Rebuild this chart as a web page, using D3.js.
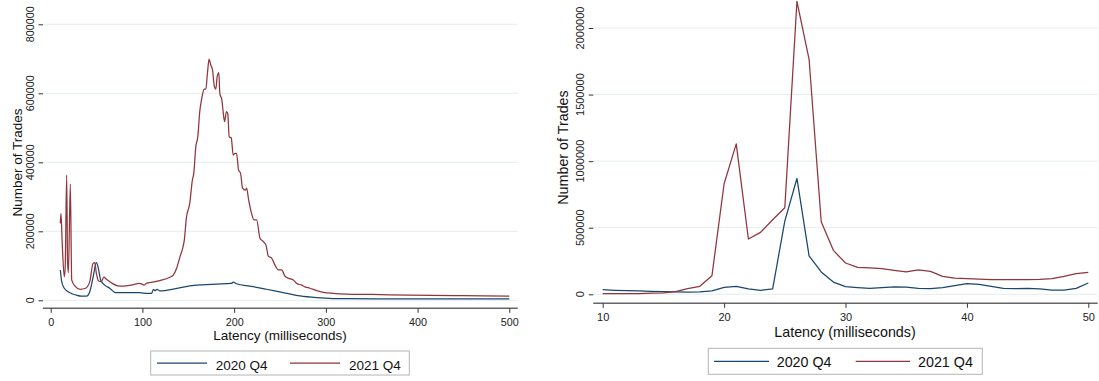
<!DOCTYPE html>
<html><head><meta charset="utf-8">
<script src="https://cdn.jsdelivr.net/npm/d3@7"></script>
<style>body{margin:0;background:#fff;}svg{display:block;font-family:"Liberation Sans",Arial,Helvetica,sans-serif;}</style>
</head><body>
<svg id="c" width="1099" height="381"></svg>
<script>
// ---- Left panel data (latency 0-500 ms) ----
const leftLat2021 = [10.5,11.2,12.5,14.8,15.8,17.4,18.4,19.3,21.4,22.9,26.5,32,38,42.6,46.2,48,49.8,52,55,58,60.4,66,73,78.5,87.6,96.6,99.5,101.8,104.7,107,119,130,133.6,137.3,140.9,143.8,145.7,147.9,151.6,154.5,156,158.2,160.4,162.5,164.7,167.3,169.1,170.9,172.7,174.5,176.4,178.5,180,181.5,183.3,184.4,186.6,188,189.5,191.7,193.1,194.6,196.8,199,201.2,202.6,204.8,207,209.2,212.1,213.6,215.8,218.7,221.6,224.5,228.2,231.8,234.7,237.3,240.9,244.5,248.2,251.8,255.4,259.1,264.5,268.2,273.6,277.2,282.7,290,297.2,308,322.6,350,391,450,500];
const leftTrades2021 = [223000,252000,170000,68000,95000,363000,110000,80000,337000,59000,41000,32000,35000,54000,107000,109000,78000,57000,54000,67000,62000,51000,42000,41000,44000,49000,47000,44000,50000,51000,57000,67000,73000,93000,126000,150000,175000,238000,281000,349000,368000,445000,474000,547000,585000,612000,612000,658000,699000,682000,668000,619000,612000,648000,660000,600000,581000,547000,518000,547000,541000,474000,471000,421000,426000,426000,378000,368000,325000,319000,325000,291000,255000,233000,233000,180000,170000,160000,128000,122000,102000,88000,88000,70000,64000,59000,49000,44000,39000,35000,28000,23000,20000,18000,17000,15000,13500,12000];
const leftLat2020 = [10.5,12,14.8,21,28,33.6,39,42.6,46,49.8,51.6,54.5,58.9,64.3,70.8,77,87.6,97.4,104.7,110,112,113.6,116,119,124.5,135,151.7,165,180.8,197,199,202.6,217.3,226,235.4,253.6,271.8,290,308,326,400,500];
const leftTrades2020 = [88000,54000,35000,22000,15000,12000,12000,25000,64000,109000,97000,59000,44000,35000,22000,22000,22000,22000,20000,20000,32000,28000,32000,27000,28000,33000,42000,45000,47000,49000,53000,48000,41000,37000,32000,22000,12500,7500,5000,4500,4000,4000];
const leftXTicks = [0,100,200,300,400,500];
const leftYTicks = [0,200000,400000,600000,800000];

// ---- Right panel data (latency 10-50 ms) ----
const rightLat = [10,11,12,13,14,15,16,17,18,19,20,21,22,23,24,25,26,27,28,29,30,31,32,33,34,35,36,37,38,39,40,41,42,43,44,45,46,47,48,49,50];
const rightTrades2021 = [5000,5000,5000,6000,8000,10000,20000,42000,60000,140000,830000,1130000,415000,465000,560000,650000,2200000,1765000,545000,330000,235000,202000,198000,192000,180000,168000,184000,172000,135000,122000,117000,114000,111000,110000,110000,110000,112000,118000,135000,155000,165000];
const rightTrades2020 = [35000,30000,27000,25000,22000,20000,18000,17000,19000,25000,52000,60000,40000,30000,40000,550000,870000,288000,168000,92000,58000,50000,44000,50000,55000,54000,45000,42000,50000,65000,80000,75000,60000,45000,42000,45000,40000,32000,32000,45000,85000];
const rightXTicks = [10,20,30,40,50];
const rightYTicks = [0,500000,1000000,1500000,2000000];

const seriesNames = ["2020 Q4","2021 Q4"];
const colors = ["#1a476f","#90353b"];

const svg = d3.select("#c");
svg.append("rect").attr("width",1099).attr("height",381).attr("fill","#fff");

function panel(o){
  const g = svg.append("g");
  const x = d3.scaleLinear().domain(o.xDomain).range(o.xRange);
  const y = d3.scaleLinear().domain(o.yDomain).range(o.yRange);
  // gridlines
  g.append("g").selectAll("line").data(o.yTicks).join("line")
    .attr("x1",o.plotL).attr("x2",o.plotR)
    .attr("y1",d=>y(d)).attr("y2",d=>y(d))
    .attr("stroke","#e4edef").attr("stroke-width",1);
  // y axis ticks (no domain line)
  const ya = g.append("g").attr("transform",`translate(${o.plotL},0)`)
    .call(d3.axisLeft(y).tickValues(o.yTicks).tickSize(4.5).tickFormat(d3.format("d")));
  ya.select(".domain").remove();
  ya.selectAll(".tick line").attr("stroke","#333");
  ya.selectAll(".tick text").remove();
  g.append("g").selectAll("text").data(o.yTicks).join("text")
    .attr("transform",d=>`translate(${o.yTickTextX},${y(d)}) rotate(-90)`)
    .attr("text-anchor","middle").attr("font-size",o.tickFont).attr("fill","#222")
    .text(d=>d3.format("d")(d));
  // x axis
  const xa = g.append("g").attr("transform",`translate(0,${o.axisY})`)
    .call(d3.axisBottom(x).tickValues(o.xTicks).tickSize(4.5).tickSizeOuter(0).tickFormat(d3.format("d")));
  xa.select(".domain").attr("d",`M${o.plotL},0H${o.plotR}`).attr("stroke","#666").attr("stroke-width",1.4);
  xa.selectAll(".tick line").attr("stroke","#333");
  xa.selectAll(".tick text").attr("font-size",o.tickFont).attr("fill","#222")
    .attr("y",null).attr("dy",null).attr("transform",`translate(0,${o.xTickBase-o.axisY})`);
  // lines
  const line = d3.line().x(d=>x(d[0])).y(d=>y(d[1])).curve(o.curve);
  o.series.forEach((s,i)=>{
    g.append("path").datum(d3.zip(s.x,s.y)).attr("d",line)
      .attr("fill","none").attr("stroke",colors[i]).attr("stroke-width",1.25).attr("stroke-linejoin","round");
  });
  // axis titles
  g.append("text").attr("x",o.xTitleX).attr("y",o.xTitleY).attr("text-anchor","middle")
    .attr("font-size",o.titleFont).attr("fill","#111").text("Latency (milliseconds)");
  g.append("text").attr("transform",`translate(${o.yTitleX},${o.yTitleY}) rotate(-90)`)
    .attr("text-anchor","middle").attr("font-size",o.titleFont).attr("fill","#111").text("Number of Trades");
  // legend
  const L = o.legend;
  g.append("rect").attr("x",L.x).attr("y",L.y).attr("width",L.w).attr("height",L.h)
    .attr("fill","#fff").attr("stroke","#b4b4b4").attr("stroke-width",1);
  seriesNames.forEach((n,i)=>{
    g.append("line").attr("x1",L.items[i][0]).attr("x2",L.items[i][1])
      .attr("y1",L.y+L.h/2).attr("y2",L.y+L.h/2).attr("stroke",colors[i]).attr("stroke-width",1.25);
    g.append("text").attr("x",L.items[i][2]).attr("y",L.textBase).attr("font-size",o.titleFont)
      .attr("fill","#111").text(n);
  });
}

panel({
  xDomain:[0,500], xRange:[50.7,509.3], yDomain:[0,800000], yRange:[300.3,24.3],
  plotL:43, plotR:517.7, axisY:308.3, xTicks:leftXTicks, yTicks:leftYTicks,
  tickFont:10.8, xTickBase:325.5, yTickTextX:34,
  titleFont:13.5, xTitleX:280, xTitleY:339.8, yTitleX:21.5, yTitleY:162.5,
  curve:d3.curveMonotoneX,
  series:[{x:leftLat2020,y:leftTrades2020},{x:leftLat2021,y:leftTrades2021}],
  legend:{x:150.7,y:351,w:258.6,h:24,textBase:369.5,items:[[157,207,215.7],[290,340,349]]}
});
panel({
  xDomain:[10,50], xRange:[602.7,1088.3], yDomain:[0,2000000], yRange:[294.3,28],
  plotL:593.3, plotR:1097.7, axisY:303.3, xTicks:rightXTicks, yTicks:rightYTicks,
  tickFont:11, xTickBase:321, yTickTextX:584,
  titleFont:14.3, xTitleX:845, xTitleY:337, yTitleX:568, yTitleY:147.5,
  curve:d3.curveLinear,
  series:[{x:rightLat,y:rightTrades2020},{x:rightLat,y:rightTrades2021}],
  legend:{x:708.3,y:348.3,w:274,h:26,textBase:366.8,items:[[714,769,776.7],[855.7,910,918]]}
});
</script>
</body></html>
